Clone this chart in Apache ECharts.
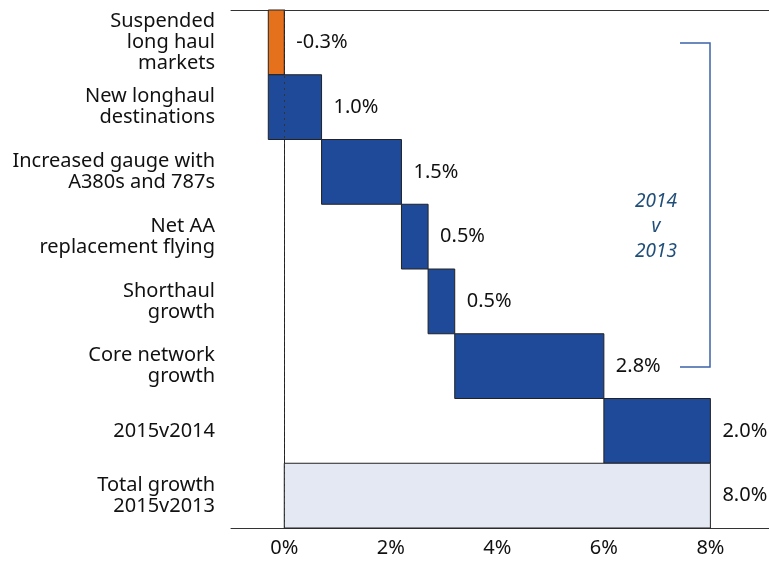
<!DOCTYPE html>
<html>
<head>
<meta charset="utf-8">
<style>
  html, body { margin: 0; padding: 0; background: #fff; }
  #main { width: 769px; height: 561px; }
</style>
<script src="https://cdn.jsdelivr.net/npm/echarts@6/dist/echarts.min.js"></script>
</head>
<body>
<div id="main"></div>
<script>
// categories, top to bottom
var categories = [
  'Suspended\nlong haul\nmarkets',
  'New longhaul\ndestinations',
  'Increased gauge with\nA380s and 787s',
  'Net AA\nreplacement flying',
  'Shorthaul\ngrowth',
  'Core network\ngrowth',
  '2015v2014',
  'Total growth\n2015v2013'
];
// step changes (%), then the total
var changes = [-0.3, 1.0, 1.5, 0.5, 0.5, 2.8, 2.0];
var total = 8.0;
var xTicks = [0, 2, 4, 6, 8];

var FONT = '"Noto Sans", sans-serif';
var colors = ['#e5711d', '#1f4a99', '#1f4a99', '#1f4a99', '#1f4a99', '#1f4a99', '#1f4a99', '#e4e8f3'];

// build waterfall rows [start, end, index, change]
var rows = [];
var running = 0;
for (var i = 0; i < changes.length; i++) {
  rows.push([running, running + changes[i], i, changes[i]]);
  running = running + changes[i];
}
rows.push([0, total, changes.length, total]);

var myChart = echarts.init(document.getElementById('main'));

var option = {
  animation: false,
  grid: { left: 231, right: 0, top: 10, bottom: 33, outerBoundsMode: 'none' },
  xAxis: [{
    type: 'value',
    min: -1,
    max: 9.1,
    interval: 1,
    splitLine: { show: false },
    axisTick: { show: false },
    axisLine: { show: true, lineStyle: { color: '#333', width: 1 } },
    axisLabel: {
      margin: 10,
      fontFamily: FONT,
      fontSize: 20,
      color: '#111',
      formatter: function (v) {
        var r = Math.round(v);
        return xTicks.indexOf(r) >= 0 && Math.abs(v - r) < 1e-6 ? r + '%' : '';
      }
    }
  }, {
    type: 'value',
    position: 'top',
    min: -1,
    max: 9.1,
    splitLine: { show: false },
    axisTick: { show: false },
    axisLabel: { show: false },
    axisLine: { show: true, lineStyle: { color: '#333', width: 1 } }
  }],
  yAxis: {
    type: 'category',
    inverse: true,
    data: categories,
    axisTick: { show: false },
    axisLine: { show: true, lineStyle: { color: '#222', width: 1 } },
    axisLabel: {
      margin: 16,
      fontFamily: FONT,
      fontSize: 20,
      lineHeight: 21,
      color: '#111',
      align: 'right'
    }
  },
  series: [{
    type: 'custom',
    xAxisIndex: 0,
    yAxisIndex: 0,
    encode: { x: [0, 1], y: 2 },
    data: rows,
    z: 2,
    renderItem: function (params, api) {
      var s = api.value(0), e = api.value(1), idx = api.value(2), ch = api.value(3);
      var p1 = api.coord([s, idx]);
      var p2 = api.coord([e, idx]);
      var h = api.size([0, 1])[1];
      var x = Math.min(p1[0], p2[0]);
      var w = Math.abs(p2[0] - p1[0]);
      return {
        type: 'group',
        children: [{
          type: 'rect',
          shape: { x: x, y: p1[1] - h / 2, width: w, height: h },
          style: { fill: colors[params.dataIndex], stroke: '#222', lineWidth: 1 }
        }, {
          type: 'text',
          style: {
            text: ch.toFixed(1) + '%',
            x: Math.max(p1[0], p2[0]) + 12,
            y: p1[1],
            verticalAlign: 'middle',
            align: 'left',
            fill: '#111',
            font: '20px ' + FONT
          }
        }]
      };
    }
  }, {
    // dotted zero line
    type: 'custom',
    xAxisIndex: 0,
    yAxisIndex: 0,
    encode: { x: 0, y: 1 },
    data: [[0, 0]],
    z: 3,
    renderItem: function (params, api) {
      var p = api.coord([api.value(0), 0]);
      var cs = params.coordSys;
      return {
        type: 'line',
        shape: { x1: Math.round(p[0]) + 0.5, y1: cs.y, x2: Math.round(p[0]) + 0.5, y2: cs.y + cs.height },
        style: { stroke: '#333', lineWidth: 1, lineDash: [2, 4] }
      };
    }
  }],
  graphic: [{
    type: 'polyline',
    shape: { points: [[680, 43], [710, 43], [710, 367], [680, 367]] },
    style: { stroke: '#3d63a8', lineWidth: 1.5, fill: null }
  }, {
    type: 'text',
    x: 656,
    y: 189,
    style: {
      text: '2014\nv\n2013',
      align: 'center',
      fill: '#1f4e79',
      font: 'italic 19px ' + FONT,
      lineHeight: 25
    }
  }]
};

myChart.setOption(option);
</script>
</body>
</html>
